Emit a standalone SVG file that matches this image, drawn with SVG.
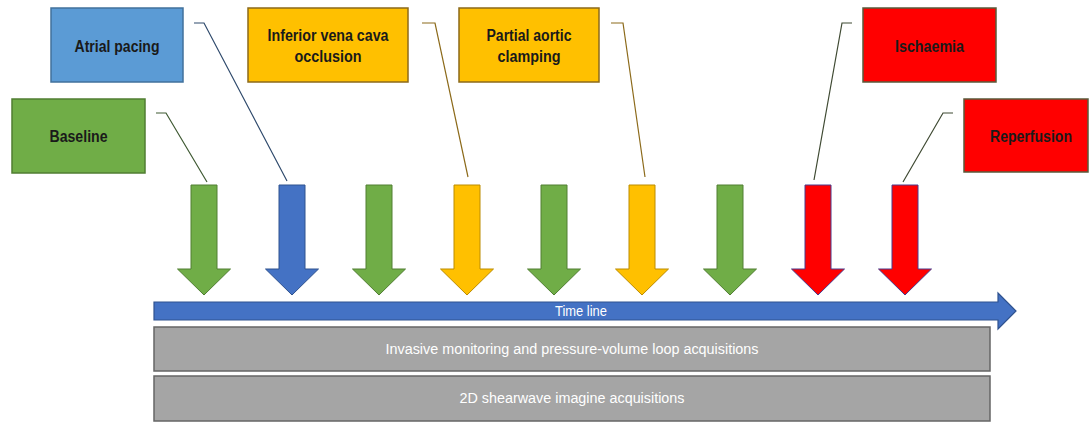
<svg xmlns="http://www.w3.org/2000/svg" width="1089" height="422" viewBox="0 0 1089 422">
<style>
.box{stroke-width:1.5}
.lbl{font-family:"Liberation Sans Narrow","Liberation Sans",Arial,sans-serif;font-weight:bold;font-size:16px;fill:#1a1a1a;text-anchor:middle}
.wt{font-family:"Liberation Sans Narrow","Liberation Sans",Arial,sans-serif;font-size:14px;fill:#ffffff;text-anchor:middle}
.lead{fill:none;stroke-width:1.2}
.green{fill:#70AD47;stroke:#507E32}
.blue{fill:#4472C4;stroke:#2F528F}
.yellow{fill:#FFC000;stroke:#BC8C00}
.red{fill:#FF0000;stroke:#4A3A8C}
</style>
<defs>
<path id="dn" d="M-13,0 H13 V84 H26.5 L0,110 L-26.5,84 H-13 Z"/>
</defs>
<g id="connectors">
<polyline class="lead" stroke="#3F5A33" points="156,113 166,113 207,182"/>
<polyline class="lead" stroke="#2F4A6C" points="194,23 204,23 287,181"/>
<polyline class="lead" stroke="#8C6A1A" points="422,23 435,23 468,177"/>
<polyline class="lead" stroke="#8C6A1A" points="611,23 623,23 645,177"/>
<polyline class="lead" stroke="#3F4A33" points="852,23 842,23 814,180"/>
<polyline class="lead" stroke="#3F4A33" points="953,113 943,113 903,182"/>
</g>
<g id="arrows">
<use href="#dn" x="204" y="185" class="green"/>
<use href="#dn" x="292" y="185" class="blue"/>
<use href="#dn" x="379" y="185" class="green"/>
<use href="#dn" x="467" y="185" class="yellow"/>
<use href="#dn" x="554" y="185" class="green"/>
<use href="#dn" x="642" y="185" class="yellow"/>
<use href="#dn" x="730" y="185" class="green"/>
<use href="#dn" x="818" y="185" class="red"/>
<use href="#dn" x="905" y="185" class="red"/>
</g>
<g id="baseline">
<rect class="box" x="12" y="99" width="133" height="74" fill="#70AD47" stroke="#507E32"/>
<text class="lbl" x="78.5" y="142" textLength="58" lengthAdjust="spacingAndGlyphs">Baseline</text>
</g>
<g id="atrial-pacing">
<rect class="box" x="51" y="8" width="132" height="74" fill="#5B9BD5" stroke="#41719C"/>
<text class="lbl" x="117" y="52" textLength="85" lengthAdjust="spacingAndGlyphs">Atrial pacing</text>
</g>
<g id="ivc-occlusion">
<rect class="box" x="248" y="8" width="160" height="74" fill="#FFC000" stroke="#8C6A1A"/>
<text class="lbl" x="328" y="41" textLength="121" lengthAdjust="spacingAndGlyphs">Inferior vena cava</text>
<text class="lbl" x="328" y="62" textLength="67" lengthAdjust="spacingAndGlyphs">occlusion</text>
</g>
<g id="partial-aortic-clamping">
<rect class="box" x="459" y="8" width="140" height="74" fill="#FFC000" stroke="#8C6A1A"/>
<text class="lbl" x="529" y="41" textLength="85" lengthAdjust="spacingAndGlyphs">Partial aortic</text>
<text class="lbl" x="529" y="62" textLength="63" lengthAdjust="spacingAndGlyphs">clamping</text>
</g>
<g id="ischaemia">
<rect class="box" x="863" y="8" width="133" height="74" fill="#FF0000" stroke="#5A5A3A"/>
<text class="lbl" x="929.5" y="52" textLength="69" lengthAdjust="spacingAndGlyphs">Ischaemia</text>
</g>
<g id="reperfusion">
<rect class="box" x="964" y="99" width="124" height="73" fill="#FF0000" stroke="#5A5A3A"/>
<text class="lbl" x="1031" y="142" textLength="82" lengthAdjust="spacingAndGlyphs">Reperfusion</text>
</g>
<g id="timeline">
<polygon points="154,302 998,302 998,293 1016,311 998,329 998,320 154,320" fill="#4472C4" stroke="#2F528F" stroke-width="1.2"/>
<text class="wt" x="581" y="316" textLength="52" lengthAdjust="spacingAndGlyphs">Time line</text>
</g>
<g id="invasive-monitoring">
<rect x="154" y="327" width="836" height="44" fill="#A5A5A5" stroke="#666666" stroke-width="1.5"/>
<text class="wt" x="572" y="354" textLength="373" lengthAdjust="spacingAndGlyphs">Invasive monitoring and pressure-volume loop acquisitions</text>
</g>
<g id="shearwave">
<rect x="154" y="376" width="836" height="45" fill="#A5A5A5" stroke="#666666" stroke-width="1.5"/>
<text class="wt" x="572" y="403" textLength="225" lengthAdjust="spacingAndGlyphs">2D shearwave imagine acquisitions</text>
</g>
</svg>
